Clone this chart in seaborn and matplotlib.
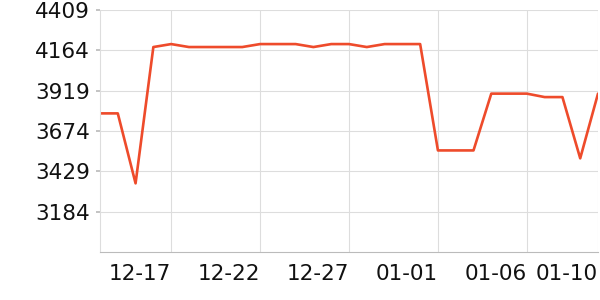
import matplotlib
matplotlib.use("Agg")
import matplotlib.pyplot as plt
import seaborn as sns
import pandas as pd

dates = ["12-13", "12-14", "12-15", "12-16", "12-17", "12-18", "12-19", "12-20",
         "12-21", "12-22", "12-23", "12-24", "12-25", "12-26", "12-27", "12-28",
         "12-29", "12-30", "12-31", "01-01", "01-02", "01-03", "01-04", "01-05",
         "01-06", "01-07", "01-08", "01-09", "01-10"]
values = [3781, 3781, 3356, 4184, 4202, 4184, 4184, 4184,
          4184, 4202, 4202, 4202, 4184, 4202, 4202, 4184,
          4202, 4202, 4202, 3556, 3556, 3556, 3901, 3901,
          3901, 3880, 3880, 3508, 3901]
y_ticks = [3184, 3429, 3674, 3919, 4164, 4409]
x_tick_labels = ["12-17", "12-22", "12-27", "01-01", "01-06", "01-10"]

df = pd.DataFrame({"idx": range(len(dates)), "date": dates, "value": values})

sns.set_theme(style="white")
plt.rcParams["font.family"] = ["DejaVu Sans"]

fig = plt.figure(figsize=(6, 3), dpi=100)
ax = fig.add_axes([100 / 600, 48 / 300, 498 / 600, 242 / 300])

sns.lineplot(data=df, x="idx", y="value", ax=ax, color="#ee4b2b", linewidth=1.9,
             estimator=None, sort=False)

ax.set_xlim(0, len(dates) - 1)
ax.set_ylim(2939, 4409)
ax.set_yticks(y_ticks)
ax.set_yticklabels([str(v) for v in y_ticks], fontsize=15.5, color="#111111")

xt = [dates.index(d) for d in x_tick_labels]
ax.set_xticks(xt)
ax.set_xticklabels(x_tick_labels, fontsize=15.5, color="#111111", ha="right")

ax.grid(True, color="#dddddd", linewidth=0.8)
ax.set_axisbelow(True)
for s in ["top", "right"]:
    ax.spines[s].set_visible(False)
ax.spines["left"].set_color("#dddddd")
ax.spines["left"].set_linewidth(0.8)
ax.spines["bottom"].set_color("#bbbbbb")
ax.spines["bottom"].set_linewidth(0.8)
ax.tick_params(axis="y", length=3, color="#bbbbbb", pad=4, left=True)
ax.tick_params(axis="x", length=0, pad=9)
ax.set_xlabel("")
ax.set_ylabel("")

fig.savefig("out.png", dpi=100)
